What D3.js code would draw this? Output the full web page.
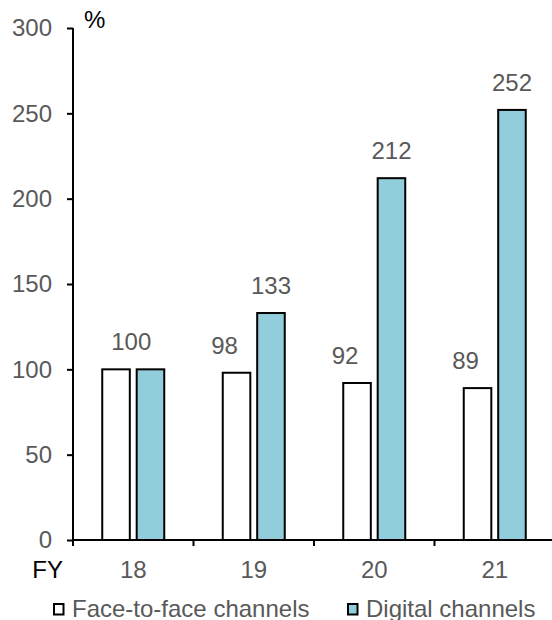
<!DOCTYPE html>
<html>
<head>
<meta charset="utf-8">
<script src="https://cdn.jsdelivr.net/npm/d3@7"></script>
<style>
  html, body { margin: 0; padding: 0; background: #fff; }
  svg { display: block; font-family: "Liberation Sans", Arial, sans-serif; }
</style>
</head>
<body>
<svg id="chart" width="552" height="620"></svg>
<script>
// Fiscal years and index values (FY18 = 100)
const years = ["18", "19", "20", "21"];
const faceToFace = [100, 98, 92, 89];
const digital = [100, 133, 212, 252];
const yTicks = [0, 50, 100, 150, 200, 250, 300];
const seriesNames = ["Face-to-face channels", "Digital channels"];
const seriesColors = ["#ffffff", "#92cddc"];

const svg = d3.select("#chart");
const textGray = "#595959";
const fontSize = 24;

const x0 = d3.scaleBand().domain(years).range([73, 555]).padding(0);
const y = d3.scaleLinear().domain([0, 300]).range([540, 28]);
const x1 = d3.scaleBand().domain([0, 1]).range([-31, 31]).paddingInner(0.2);

// Bars
const rows = years.map((yr, i) => ({ yr, vals: [faceToFace[i], digital[i]] }));
const groups = svg.append("g").selectAll("g").data(rows).join("g")
  .attr("transform", d => `translate(${x0(d.yr) + x0.bandwidth() / 2},0)`);

groups.selectAll("rect").data(d => d.vals.map((v, s) => ({ v, s }))).join("rect")
  .attr("x", d => x1(d.s))
  .attr("width", x1.bandwidth())
  .attr("y", d => y(d.v))
  .attr("height", d => y(0) - y(d.v))
  .attr("fill", d => seriesColors[d.s])
  .attr("stroke", "#000")
  .attr("stroke-width", 2);

// Value labels
groups.each(function (d) {
  const g = d3.select(this);
  const [f, dg] = d.vals;
  if (f === dg) {
    g.append("text").attr("x", -2).attr("y", y(f) - 19)
      .attr("text-anchor", "middle").attr("fill", textGray)
      .attr("font-size", fontSize).text(f);
    return;
  }
  g.append("text").attr("x", x1(0) + x1.bandwidth() / 2 - 12).attr("y", y(f) - 19)
    .attr("text-anchor", "middle").attr("fill", textGray)
    .attr("font-size", fontSize).text(f);
  g.append("text").attr("x", x1(1) + x1.bandwidth() / 2).attr("y", y(dg) - 19)
    .attr("text-anchor", "middle").attr("fill", textGray)
    .attr("font-size", fontSize).text(dg);
});

// Y axis
const yAxis = svg.append("g").attr("transform", "translate(73,0)")
  .call(d3.axisLeft(y).tickValues(yTicks).tickSize(6).tickPadding(15));
yAxis.select(".domain").attr("d", `M0,${y(300)}V${y(0)}`).attr("stroke", "#000").attr("stroke-width", 2);
yAxis.selectAll(".tick line").attr("stroke", "#000").attr("stroke-width", 2);
yAxis.selectAll(".tick text").attr("fill", textGray).attr("font-size", fontSize)
  .attr("font-family", "Liberation Sans, Arial, sans-serif");

// X axis: line with ticks at category boundaries
const xg = svg.append("g");
xg.append("line").attr("x1", 72).attr("x2", 552).attr("y1", y(0)).attr("y2", y(0))
  .attr("stroke", "#000").attr("stroke-width", 2);
xg.selectAll("line.tk").data(years).join("line").attr("class", "tk")
  .attr("x1", d => x0(d)).attr("x2", d => x0(d))
  .attr("y1", y(0)).attr("y2", y(0) + 6)
  .attr("stroke", "#000").attr("stroke-width", 2);
xg.selectAll("text").data(years).join("text")
  .attr("x", d => x0(d) + x0.bandwidth() / 2).attr("y", 578)
  .attr("text-anchor", "middle").attr("fill", textGray).attr("font-size", fontSize)
  .text(d => d);

svg.append("text").attr("x", 63).attr("y", 578).attr("text-anchor", "end")
  .attr("fill", "#000").attr("font-size", fontSize).text("FY");
svg.append("text").attr("x", 84).attr("y", 28)
  .attr("fill", "#000").attr("font-size", fontSize).text("%");

// Legend
const legendX = [53, 347];
const legend = svg.append("g").selectAll("g").data(seriesNames).join("g")
  .attr("transform", (d, i) => `translate(${legendX[i]},604)`);
legend.append("rect").attr("x", 1).attr("y", 0).attr("width", 9.5).attr("height", 10.5)
  .attr("fill", (d, i) => seriesColors[i]).attr("stroke", "#000").attr("stroke-width", 2);
legend.append("text").attr("x", 19).attr("y", 12.5)
  .attr("fill", textGray).attr("font-size", fontSize).text(d => d);
</script>
</body>
</html>
